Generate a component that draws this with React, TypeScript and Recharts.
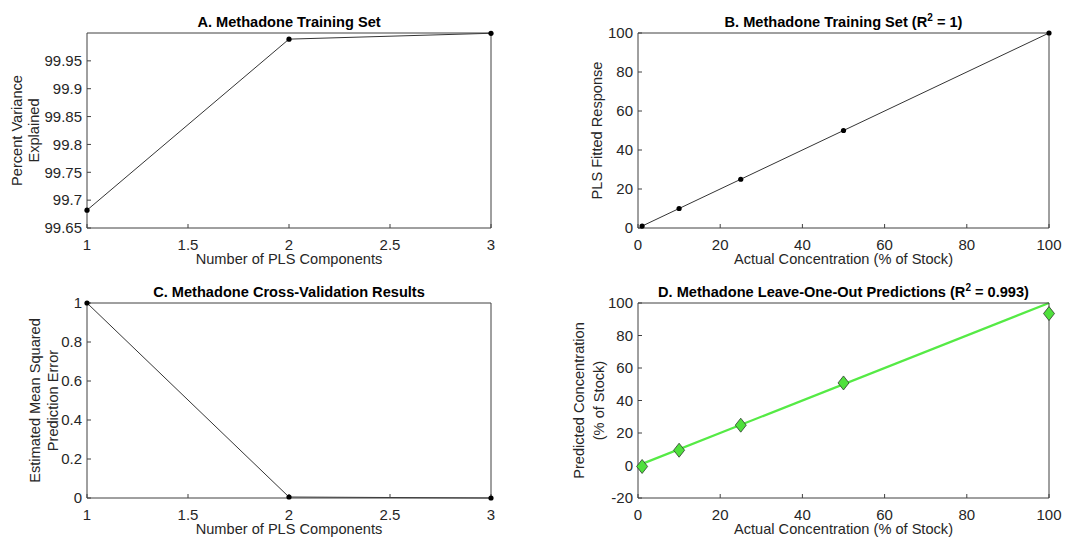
import React from "react";
import { ComposedChart, Line, Scatter, XAxis, YAxis, Label } from "recharts";

// values
const components = [1, 2, 3];
const percentVariance = [99.682, 99.989, 99.9995];
const msePrediction = [1, 0.005, 0];
const actualConc = [1, 10, 25, 50, 100];
const fittedResponse = [1, 10, 25, 50, 100];
const predictedConc = [-0.6, 9.4, 24.8, 50.8, 93.5];
const refLineX = [1, 100];
const refLineY = [1, 100];

const componentTicks = [1, 1.5, 2, 2.5, 3];
const varianceTicks = [99.65, 99.7, 99.75, 99.8, 99.85, 99.9, 99.95];
const mseTicks = [0, 0.2, 0.4, 0.6, 0.8, 1];
const concTicks = [0, 20, 40, 60, 80, 100];
const predTicks = [-20, 0, 20, 40, 60, 80, 100];

const varianceRows = components.map((n, i) => ({ x: n, y: percentVariance[i] }));
const mseRows = components.map((n, i) => ({ x: n, y: msePrediction[i] }));
const fittedRows = actualConc.map((c, i) => ({ x: c, y: fittedResponse[i] }));
const predictedRows = actualConc.map((c, i) => ({ x: c, y: predictedConc[i] }));
const refRows = refLineX.map((x, i) => ({ x, y: refLineY[i] }));

const INK = "#262626";
const AXIS = "#404040";
const TICK = 4;
const TICK_FONT = 15;
const LABEL_FONT = 14.6;

type PanelProps = {
  left: number;
  top: number;
  width: number;
  yAxisWidth: number;
  rightMargin: number;
  title: React.ReactNode;
  xLabel: string;
  yLabels: { text: string; x: number }[];
  xDomain: [number, number];
  xTicks: number[];
  yDomain: [number, number];
  yTicks: number[];
  children: React.ReactNode;
};

const Panel = (p: PanelProps) => {
  const titleContent = (props: any) => {
    const vb = props.viewBox;
    return (
      <text x={vb.x + vb.width / 2} y={vb.y - 5} textAnchor="middle" fontWeight="bold" fontSize={LABEL_FONT} fill="#000">
        {p.title}
      </text>
    );
  };
  const xLabelContent = (props: any) => {
    const vb = props.viewBox;
    return (
      <text x={vb.x + vb.width / 2} y={vb.y + 36} textAnchor="middle" fontSize={LABEL_FONT} fill={INK}>
        {p.xLabel}
      </text>
    );
  };
  const yLabelContent = (props: any) => {
    const vb = props.viewBox;
    const cy = vb.y + vb.height / 2;
    return (
      <g>
        {p.yLabels.map((l) => (
          <text
            key={l.text}
            x={l.x}
            y={cy}
            transform={`rotate(-90 ${l.x} ${cy})`}
            textAnchor="middle"
            dominantBaseline="central"
            fontSize={LABEL_FONT}
            fill={INK}
          >
            {l.text}
          </text>
        ))}
      </g>
    );
  };
  const tickStyle = { fontSize: TICK_FONT, fill: INK };

  return (
    <div style={{ position: "absolute", left: p.left, top: p.top }}>
      <ComposedChart
        width={p.width}
        height={270}
        margin={{ top: 32, right: p.rightMargin - 1, bottom: 0, left: 0 }}
      >
        <XAxis
          dataKey="x"
          type="number"
          domain={p.xDomain}
          ticks={p.xTicks}
          interval={0}
          height={42}
          tickSize={-TICK}
          tickMargin={TICK + 11}
          tick={tickStyle}
          axisLine={{ stroke: AXIS }}
          tickLine={{ stroke: AXIS }}
        >
          <Label content={xLabelContent} />
        </XAxis>
        <XAxis
          xAxisId="top"
          orientation="top"
          dataKey="x"
          type="number"
          domain={p.xDomain}
          ticks={p.xTicks}
          interval={0}
          height={1}
          tickSize={-TICK}
          tick={false}
          axisLine={{ stroke: AXIS }}
          tickLine={{ stroke: AXIS }}
        >
          <Label content={titleContent} />
        </XAxis>
        <YAxis
          type="number"
          domain={p.yDomain}
          ticks={p.yTicks}
          interval={0}
          width={p.yAxisWidth}
          tickSize={-TICK}
          tickMargin={TICK + 5}
          tick={tickStyle}
          axisLine={{ stroke: AXIS }}
          tickLine={{ stroke: AXIS }}
        >
          <Label content={yLabelContent} />
        </YAxis>
        <YAxis
          yAxisId="right"
          orientation="right"
          type="number"
          domain={p.yDomain}
          ticks={p.yTicks}
          interval={0}
          width={1}
          tickSize={-TICK}
          tick={false}
          axisLine={{ stroke: AXIS }}
          tickLine={{ stroke: AXIS }}
        />
        {p.children}
      </ComposedChart>
    </div>
  );
};

const blackDot = { r: 2.6, fill: "#000", stroke: "#000", strokeWidth: 0 };

const Diamond = (props: any) => {
  const { cx, cy } = props;
  const w = 5.5;
  const h = 7;
  return (
    <polygon
      points={`${cx},${cy - h} ${cx + w},${cy} ${cx},${cy + h} ${cx - w},${cy}`}
      fill="#4fe03c"
      stroke="#2d3a2d"
      strokeWidth={0.8}
    />
  );
};

const Sup = ({ base, sup, rest }: { base: string; sup: string; rest: string }) => (
  <>
    {base}
    <tspan dy={-6} fontSize={10}>
      {sup}
    </tspan>
    <tspan dy={6}>{rest}</tspan>
  </>
);

export default function App() {
  return (
    <div
      style={{
        position: "absolute",
        left: 0,
        top: 0,
        width: 1071,
        height: 540,
        background: "#fff",
        fontFamily: "'Liberation Sans', Arial, sans-serif",
      }}
    >
      <Panel
        left={0}
        top={0}
        width={540}
        yAxisWidth={87}
        rightMargin={49}
        title="A. Methadone Training Set"
        xLabel="Number of PLS Components"
        yLabels={[
          { text: "Percent Variance", x: 17 },
          { text: "Explained", x: 34 },
        ]}
        xDomain={[1, 3]}
        xTicks={componentTicks}
        yDomain={[99.65, 100]}
        yTicks={varianceTicks}
      >
        <Line
          data={varianceRows}
          dataKey="y"
          type="linear"
          stroke="#000"
          strokeWidth={0.8}
          dot={blackDot}
          activeDot={false}
          isAnimationActive={false}
        />
      </Panel>

      <Panel
        left={540}
        top={0}
        width={531}
        yAxisWidth={98}
        rightMargin={22}
        title={<Sup base="B. Methadone Training Set (R" sup="2" rest=" = 1)" />}
        xLabel="Actual Concentration (% of Stock)"
        yLabels={[{ text: "PLS Fitted Response", x: 57 }]}
        xDomain={[0, 100]}
        xTicks={concTicks}
        yDomain={[0, 100]}
        yTicks={concTicks}
      >
        <Line
          data={fittedRows}
          dataKey="y"
          type="linear"
          stroke="#000"
          strokeWidth={0.8}
          dot={blackDot}
          activeDot={false}
          isAnimationActive={false}
        />
      </Panel>

      <Panel
        left={0}
        top={270}
        width={540}
        yAxisWidth={87}
        rightMargin={49}
        title="C. Methadone Cross-Validation Results"
        xLabel="Number of PLS Components"
        yLabels={[
          { text: "Estimated Mean Squared", x: 35 },
          { text: "Prediction Error", x: 53 },
        ]}
        xDomain={[1, 3]}
        xTicks={componentTicks}
        yDomain={[0, 1]}
        yTicks={mseTicks}
      >
        <Line
          data={mseRows}
          dataKey="y"
          type="linear"
          stroke="#000"
          strokeWidth={0.8}
          dot={blackDot}
          activeDot={false}
          isAnimationActive={false}
        />
      </Panel>

      <Panel
        left={540}
        top={270}
        width={531}
        yAxisWidth={98}
        rightMargin={22}
        title={<Sup base="D. Methadone Leave-One-Out Predictions (R" sup="2" rest=" = 0.993)" />}
        xLabel="Actual Concentration (% of Stock)"
        yLabels={[
          { text: "Predicted Concentration", x: 39 },
          { text: "(% of Stock)", x: 59 },
        ]}
        xDomain={[0, 100]}
        xTicks={concTicks}
        yDomain={[-20, 100]}
        yTicks={predTicks}
      >
        <Line
          data={refRows}
          dataKey="y"
          type="linear"
          stroke="#55ea45"
          strokeWidth={2.2}
          dot={false}
          activeDot={false}
          isAnimationActive={false}
        />
        <Scatter data={predictedRows} dataKey="y" shape={Diamond} isAnimationActive={false} />
      </Panel>
    </div>
  );
}
